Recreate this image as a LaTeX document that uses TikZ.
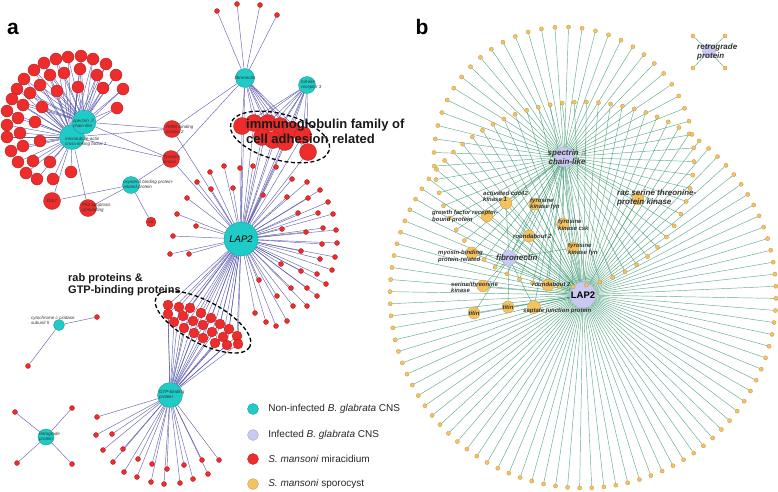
\documentclass[tikz,border=0pt]{standalone}
\usepackage{fontspec}
\setmainfont{Liberation Sans}
\usetikzlibrary{positioning,backgrounds}
\definecolor{turq}{HTML}{1ECBC6}
\definecolor{mirared}{HTML}{EE2C2C}
\definecolor{lav}{HTML}{C9C9F4}
\definecolor{sporo}{HTML}{F4C25E}
\definecolor{edgeblue}{HTML}{4A4AA6}
\definecolor{edgegreen}{HTML}{38966E}
\definecolor{labgray}{HTML}{333333}

\begin{document}
\begin{tikzpicture}[x=1pt,y=-1pt,
    cyannode/.style={circle,draw=turq!70!black,line width=0.3pt,fill=turq,inner sep=0pt,minimum size=#1},
    rednode/.style={circle,draw=mirared!70!black,line width=0.3pt,fill=mirared,inner sep=0pt,minimum size=#1},
    lavnode/.style={circle,draw=lav!80!black,line width=0.3pt,fill=lav,inner sep=0pt,minimum size=#1},
    sponode/.style={circle,draw=sporo!75!black,line width=0.25pt,fill=sporo,inner sep=0pt,minimum size=#1},
    aedge/.style={draw=edgeblue,line width=0.45pt,opacity=0.85},
    bedge/.style={draw=edgegreen,line width=0.45pt,opacity=0.8},
    alab/.style={font=\fontsize{4.5}{5}\selectfont\itshape,text=labgray,align=left,inner sep=0pt},
    blab/.style={font=\fontsize{6}{6.6}\selectfont\bfseries\itshape,text=labgray,align=left,inner sep=0pt},
    hlab/.style={font=\fontsize{8}{9}\selectfont\bfseries\itshape,text=labgray,align=left,inner sep=0pt},
    grouptext/.style={font=\bfseries,text=black!90,align=left,inner sep=0pt},
    grouprim/.style={draw=black,line width=1.3pt,dash pattern=on 4pt off 2.5pt},
    legtext/.style={font=\fontsize{10}{12}\selectfont,text=black!85,inner sep=0pt,anchor=west},
    panel/.style={font=\fontsize{21}{21}\selectfont\bfseries,inner sep=0pt,anchor=base}]
\useasboundingbox (0,0) rectangle (778,491);

% ---------- panel a ----------
\node[panel] (tag-a) at (13,34) {a};

% cytoskeleton hub
\node[cyannode=25] (macf) at (72,137) {};
\node[cyannode=24] (spec) at (84,122) {};
\foreach \p [count=\i] in {(44,63),(56,59),(68,57),(81,56),(93,59),(106,64),(116,75),(123,89),
    (117,108),(34,70),(50,75),(64,73),(80,69),(97,75),(24,79),(40,85),(57,91),(78,87),(103,88),
    (17,89),(30,93),(12,99),(23,105),(42,107),(7,111),(18,118),(35,122),(7,125),(20,133),(40,141),
    (7,137),(23,146),(11,151),(33,161),(50,162),(18,162),(26,173),(37,179),(53,179),(71,172)}
  \node[rednode=12] (h\i) at \p {};
\node[rednode=17] (rims) at (172,129) {};
\node[rednode=17] (tyrk) at (171,159) {};
\node[rednode=17] (ddit) at (52,201) {};
\node[rednode=17] (p53) at (88,208) {};
\node[cyannode=17] (osbp) at (131,185) {};
\node[rednode=10] (raca) at (151,222) {};

% immunoglobulin group
\node[cyannode=19] (fiba) at (245,78) {};
\node[cyannode=17] (tlr) at (307,85) {};
\foreach \p [count=\i] in {(217,11),(237,4),(260,5),(277,15)}
  \node[rednode=5] (f\i) at \p {};
\foreach \p [count=\i] in {(242,126),(254,123),(268,123),(280,126),(292,130),(303,135),
    (262,137),(273,140),(285,142),(308,152)}
  \node[rednode=17] (ig\i) at \p {};

% LAP2 and rab group
\node[cyannode=34] (lapa) at (241,239) {};
\foreach \p [count=\i] in {(210,172),(224,166),(240,168),(253,166),(276,167),(292,179),(307,182),
    (320,190),(197,182),(187,198),(211,189),(233,188),(263,195),(287,197),(308,198),(328,202),
    (177,214),(196,226),(173,236),(170,254),(189,254),(298,213),(318,213),(333,214),(282,229),
    (306,232),(323,228),(336,230),(322,244),(337,243),(301,251),(320,259),(335,257),(281,264),
    (301,271),(317,274),(332,270),(259,280),(291,288),(307,288),(326,284),(277,296),(317,296),
    (293,306),(307,306),(255,313),(266,322),(276,326),(287,321)}
  \node[rednode=5] (l\i) at \p {};
\foreach \p [count=\i] in {(168,305),(179,307),(190,308),(168,314),(183,316),(201,313),(174,322),
    (193,321),(211,318),(184,328),(203,325),(220,324),(194,333),(212,332),(229,329),(203,338),
    (223,337),(237,336),(215,343),(227,345),(238,344)}
  \node[rednode=10] (rab\i) at \p {};
\node[cyannode=25] (gtp) at (170,395) {};
\foreach \p [count=\i] in {(97,417),(96,435),(112,434),(103,450),(123,449),(113,462),(138,459),
    (152,464),(124,472),(137,477),(151,482),(164,484),(167,469),(180,483),(184,465),(193,479),
    (202,460),(208,474),(219,460)}
  \node[rednode=5] (g\i) at \p {};

% small components
\node[cyannode=11] (cox) at (59,325) {};
\node[rednode=5] (cox1) at (97,317) {};
\node[rednode=5] (cox2) at (28,366) {};
\node[cyannode=16] (retra) at (46,437) {};
\foreach \p [count=\i] in {(15,412),(72,408),(17,463),(72,464)}
  \node[rednode=5] (ra\i) at \p {};

\begin{pgfonlayer}{background}
  \foreach \i in {1,...,40} \draw[aedge] (macf) -- (h\i);
  \foreach \i in {1,...,24} \draw[aedge] (spec) -- (h\i);
  \foreach \n in {rims,tyrk,ddit,p53} \draw[aedge] (macf) -- (\n);
  \foreach \n in {rims,tyrk} \draw[aedge] (spec) -- (\n);
  \foreach \n in {ddit,p53,tyrk,raca} \draw[aedge] (osbp) -- (\n);
  \foreach \n in {rims,tyrk} \draw[aedge] (fiba) -- (\n);
  \foreach \n in {rims,tyrk,fiba,tlr} \draw[aedge] (lapa) -- (\n);
  \foreach \i in {1,...,4} \draw[aedge] (fiba) -- (f\i);
  \foreach \i in {1,...,10} {
    \draw[aedge] (fiba) -- (ig\i);
    \draw[aedge] (tlr) -- (ig\i);
    \draw[aedge] (lapa) -- (ig\i);
  }
  \foreach \i in {1,...,49} \draw[aedge] (lapa) -- (l\i);
  \foreach \i in {1,...,21} {
    \draw[aedge] (lapa) -- (rab\i);
    \draw[aedge] (gtp) -- (rab\i);
  }
  \foreach \i in {1,...,19} \draw[aedge] (gtp) -- (g\i);
  \draw[aedge] (cox) -- (cox1);
  \draw[aedge] (cox) -- (cox2);
  \foreach \i in {1,...,4} \draw[aedge] (retra) -- (ra\i);
\end{pgfonlayer}

% node labels
\node[alab,anchor=west] (spec-l) at (73,123) {spectrin $\beta$\\chain-like};
\node[alab,anchor=west] (macf-l) at (65,142) {microtubule-actin\\cross-linking factor 1};
\node[alab,anchor=west] (rims-l) at (166,130) {RIMS-binding\\protein 2};
\node[alab,anchor=west] (tyrk-l) at (163,159) {Tyrosine\\kinase};
\node[alab,anchor=west] (osbp-l) at (123,185) {oxysterol binding protein-\\related protein};
\node[alab,anchor=west] (p53-l) at (82,208) {P53 apoptosis\\stimulating};
\node[alab] (ddit-l) at (ddit) {DDIT};
\node[alab] (raca-l) at (raca) {rac};
\node[alab] (fiba-l) at (fiba) {fibronectin};
\node[alab,anchor=west] (tlr-l) at (301,85) {toll-like\\receptor 3};
\node[font=\fontsize{9.5}{9.5}\selectfont\itshape,inner sep=0pt] (lapa-l) at (lapa) {LAP2};
\node[alab,anchor=west] (gtp-l) at (159,395) {GTP-binding\\protein};
\node[alab,anchor=west] (cox-l) at (31,320) {cytochrome c oxidase\\subunit II};
\node[alab,anchor=west] (retra-l) at (39,437) {retrograde\\protein};

% groups
\draw[grouprim,rotate around={-15:(280,137)}] (280,137) ellipse [x radius=51,y radius=23];
\draw[grouprim,rotate around={-28:(203,322)}] (203,322) ellipse [x radius=53,y radius=21];
\node[grouptext,font=\fontsize{13}{15}\selectfont\bfseries,anchor=north west] (igsf) at (246,118.5)
  {immunoglobulin family of\\cell adhesion related};
\node[grouptext,font=\fontsize{11}{12}\selectfont\bfseries,anchor=north west] (rabs) at (68,273.5)
  {rab proteins \&\\GTP-binding proteins};

% legend
\node[cyannode=11] (leg1) at (253,409) {};
\node[lavnode=11] (leg2) at (253,435) {};
\node[rednode=11] (leg3) at (253,459) {};
\node[sponode=11] (leg4) at (253,484) {};
\node[legtext,right=9.5pt of leg1] (leg1-t) {Non-infected \textit{B. glabrata} CNS};
\node[legtext,right=9.5pt of leg2] (leg2-t) {Infected \textit{B. glabrata} CNS};
\node[legtext,right=9.5pt of leg3] (leg3-t) {\textit{S. mansoni} miracidium};
\node[legtext,right=9.5pt of leg4] (leg4-t) {\textit{S. mansoni} sporocyst};

% ---------- panel b ----------
\node[panel] (tag-b) at (422,34) {b};

\node[lavnode=26] (lapb) at (583,295) {};
\node[lavnode=20] (specb) at (564,157) {};
\node[lavnode=15] (fibb) at (509,258) {};
\foreach \i in {1,...,100}
  \node[sponode=4.2] (lr\i) at ({583+193*cos(3.6*\i+1)},{295+193*sin(3.6*\i+1)}) {};
\foreach \i in {1,...,60}
  \node[sponode=4.2] (sr\i) at ({564+130*cos(6*\i+2)},{157+130*sin(6*\i+2)}) {};

\node[sponode=12] (cdc) at (506,203) {};
\node[sponode=12] (grb) at (487,216) {};
\node[sponode=12] (fyna) at (535,204) {};
\node[sponode=12] (csk) at (563,224) {};
\node[sponode=12] (robo) at (529,236) {};
\node[sponode=12] (fynb) at (573,248) {};
\node[sponode=12] (myo) at (472,253) {};
\node[sponode=12] (racb) at (638,199) {};
\node[sponode=12] (stk) at (483,286) {};
\node[sponode=12] (robob) at (548,285) {};
\node[sponode=12] (titina) at (474,313) {};
\node[sponode=12] (titinb) at (508,307) {};
\node[sponode=13] (sjp) at (534,307) {};

\node[lavnode=13] (retrb) at (709,51) {};
\foreach \p [count=\i] in {(693,36),(725,36),(693,68),(725,68)}
  \node[sponode=4.2] (rb\i) at \p {};

\begin{pgfonlayer}{background}
  \foreach \i in {1,...,100} \draw[bedge] (lapb) -- (lr\i);
  \foreach \i in {1,...,60} \draw[bedge] (specb) -- (sr\i);
  \foreach \n in {cdc,grb,fyna,csk,robo,fynb,racb,robob,sjp,fibb,lapb} \draw[bedge] (specb) -- (\n);
  \foreach \n in {cdc,grb,fyna,csk,robo,fynb,myo,racb,stk,robob,titina,titinb,sjp,fibb} \draw[bedge] (lapb) -- (\n);
  \foreach \n in {cdc,fyna,robo,fynb,myo,stk,robob,titina,titinb,sjp} \draw[bedge] (fibb) -- (\n);
  \foreach \i in {1,...,4} \draw[bedge] (retrb) -- (rb\i);
\end{pgfonlayer}

\node[hlab,align=center] (specb-l) at (567,157.5) {spectrin $\beta$\\chain-like};
\node[font=\fontsize{9.5}{10}\selectfont\bfseries,inner sep=0pt] (lapb-l) at (lapb) {LAP2};
\node[hlab,anchor=west] (fibb-l) at (496,258) {fibronectin};
\node[hlab,anchor=west] (retrb-l) at (697,51.5) {retrograde\\protein};
\node[hlab,anchor=west] (racb-l) at (617,197.5) {rac serine threonine-\\protein kinase};
\node[blab,anchor=west] (cdc-l) at (483,196.5) {activated cdc42\\kinase 1};
\node[blab,anchor=west] (grb-l) at (432,216.5) {growth factor receptor-\\bound protein};
\node[blab,anchor=west] (fyna-l) at (530,204) {tyrosine\\kinase fyn};
\node[blab,anchor=west] (csk-l) at (558,225) {tyrosine\\kinase csk};
\node[blab,anchor=west] (robo-l) at (513,236) {roundabout 2};
\node[blab,anchor=west] (fynb-l) at (568,249.5) {tyrosine\\kinase fyn};
\node[blab,anchor=west] (myo-l) at (438,256.5) {myosin-binding\\protein-related};
\node[blab,anchor=west] (stk-l) at (451,287.5) {serine/threonine\\kinase};
\node[blab,anchor=west] (robob-l) at (532,284) {roundabout 2};
\node[blab] (titina-l) at (titina) {titin};
\node[blab] (titinb-l) at (titinb) {titin};
\node[blab,anchor=west] (sjp-l) at (523,311) {septate junction protein};
\end{tikzpicture}
\end{document}
